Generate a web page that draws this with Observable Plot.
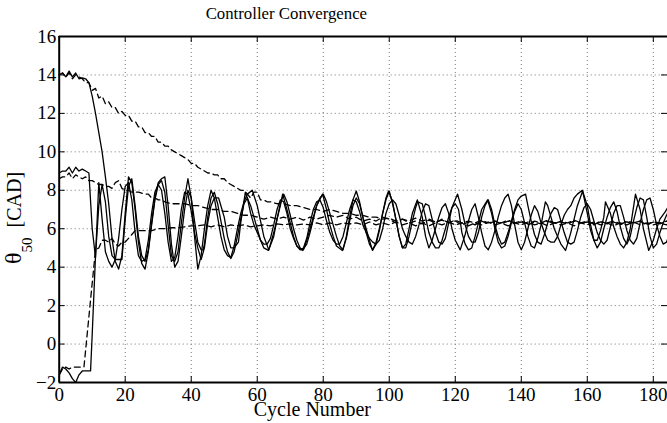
<!DOCTYPE html>
<html><head><meta charset="utf-8">
<script src="https://cdn.jsdelivr.net/npm/d3@7"></script>
<script src="https://cdn.jsdelivr.net/npm/@observablehq/plot@0.6"></script>
<style>
html,body{margin:0;padding:0;background:#fff;}
</style></head><body><div id="chart"></div>
<script>
const title = "Controller Convergence";
const xLabel = "Cycle Number";
const yLabelMain = "θ";
const yLabelSub = "50";
const yLabelUnit = "\u00a0\u00a0[CAD]";
const xTicks = [0, 20, 40, 60, 80, 100, 120, 140, 160, 180];
const yTicks = [-2, 0, 2, 4, 6, 8, 10, 12, 14, 16];
const xDomain = [0, 184.3];
const yDomain = [-2, 16];

// Solid traces (measured)
const solidA = [[0,14.0],[1,14.1],[2,13.9],[3,14.2],[4,13.9],[5,14.1],[6,13.8],[7,13.85],[8,13.8],[9,13.6],[10,12.9],[11,12.0],[12,11.0],[13,10.0],[14,8.7],[15,7.3],[16,5.5],[17,4.3],[18,3.9],[19,4.6],[20,6.8],[21,8.7],[22,8.4],[23,7.0],[24,5.3],[25,4.2],[26,3.9],[27,4.8],[28,6.2],[29,7.5],[30,8.3],[31,8.5],[32,7.9],[33,6.2],[34,4.6],[35,4.3],[36,4.8],[37,6.3],[38,7.6],[39,8.6],[40,7.6],[41,5.6],[42,3.9],[43,4.6],[44,6.0],[45,7.2],[46,8.0],[47,7.6],[48,6.6],[49,5.6],[50,4.9],[51,4.6],[52,4.5],[53,5.1],[54,6.0],[55,6.8],[56,7.4],[57,7.8],[58.5,8.0],[60,7.2],[61,6.4],[62,5.6],[63.5,4.9],[65,5.6],[66,6.5],[67,7.3],[68,7.8],[69,7.4],[70,6.7],[71,6.0],[72,5.4],[73,5.0],[74,4.9],[75,5.4],[76,6.0],[77,6.6],[78,7.2],[79,7.6],[80,7.8],[81,7.4],[82,6.8],[83,6.2],[84,5.6],[85,5.1],[86,4.9],[87,5.6],[88,6.6],[89,7.5],[90,7.96],[91,7.4],[92,6.6],[93,5.8],[94,5.2],[95,4.9],[96,5.3],[97,6.0],[98,6.8],[99,7.5],[100,7.96],[101,7.3],[102,6.5],[103,5.6],[104,5.0],[105,5.2],[106,6.0],[107,6.8],[108.5,7.5],[110,6.6],[111,5.6],[112,5.0],[113,5.4],[114,6.0],[115,6.6],[116,7.1],[117,7.3],[118,6.8],[119,6.0],[120,5.4],[121.5,4.9],[123,5.7],[124,6.4],[125,7.0],[126,7.3],[127,6.6],[128,5.8],[129,5.1],[130,4.9],[131,5.3],[132,5.9],[133,6.6],[134,7.2],[135,7.6],[136,7.8],[137,7.2],[138,6.2],[139,5.3],[140,4.9],[141,5.3],[142,6.0],[143,6.7],[144,7.2],[145,6.9],[146,6.3],[147,5.8],[148,5.4],[149,5.3],[150,5.3],[151,5.6],[152,6.2],[153,6.7],[154,7.0],[155,7.2],[156,7.6],[157,7.8],[158.5,8.0],[160,7.2],[161,6.2],[162,5.4],[163,5.0],[164,5.3],[165,6.0],[166,6.6],[167,7.1],[168,7.4],[169,6.9],[170,6.1],[171,5.5],[172,5.2],[173,5.6],[174,6.4],[175,7.1],[176,7.6],[177,7.5],[178,6.6],[179,5.6],[180,5.0],[181,5.2],[182,5.8],[183,6.3],[184,6.7],[185,7.0]];

const solidB = [[0,8.9],[1,9.0],[2,9.0],[3,9.2],[4,8.9],[5,9.2],[6,9.0],[7,9.1],[8,9.0],[9,8.9],[10,6.0],[11,4.5],[12,8.4],[13,6.5],[14,4.8],[15,4.3],[16,4.0],[17,4.4],[18,5.5],[19,7.0],[20,8.2],[21,8.4],[22,7.5],[23,5.8],[24,4.6],[25,4.3],[26,4.4],[27,5.4],[28,6.8],[29,7.9],[30,8.3],[31,8.0],[32,6.8],[33,5.3],[34,4.3],[35,4.5],[36,5.6],[37,7.0],[38,7.9],[39,7.8],[40,6.9],[41,5.8],[42,5.0],[43,4.4],[44,5.0],[45,6.3],[46,7.2],[47,7.6],[48.3,7.6],[50,6.6],[51,5.6],[52,5.0],[53,5.0],[54.3,5.3],[55,6.3],[56.4,7.9],[57,7.6],[58,6.8],[59,6.2],[60,5.8],[61,5.4],[62,5.2],[63,5.2],[64,5.5],[65,6.2],[66,7.0],[67,7.5],[68,7.4],[69,6.8],[70,6.0],[71,5.5],[72,5.1],[73,4.9],[74,5.0],[75,5.5],[76,6.3],[77,7.0],[78,7.4],[79,7.5],[80,7.1],[81,6.4],[82,5.8],[83,5.4],[84,5.2],[85,5.2],[86,5.6],[87,6.3],[88,7.0],[89,7.5],[90,7.4],[91,6.9],[92,6.2],[93,5.8],[94,5.5],[95,5.3],[96,5.2],[97,5.4],[98,6.0],[99,6.8],[100,7.3],[101,7.5],[102,7.3],[103,6.7],[104,6.0],[105,5.6],[106,5.3],[107,5.2],[108,5.6],[109,6.2],[110,6.9],[111,7.3],[112,7.2],[113,6.5],[114,5.8],[115,5.3],[116,5.2],[117,5.5],[118,6.3],[119,7.1],[120.7,7.8],[122,7.0],[123,6.2],[124,5.6],[125,5.3],[126,5.3],[127,5.8],[128,6.6],[129,7.2],[130,7.5],[131,7.0],[132,6.2],[133,5.6],[134,5.2],[135,5.3],[136,5.8],[137,6.4],[138,7.0],[139,7.5],[140,7.7],[141.3,7.8],[142,7.2],[143,6.4],[144,5.7],[145,5.3],[146,5.2],[147,5.7],[148,6.3],[149,6.8],[150,7.1],[151,7.0],[152,6.4],[153,5.8],[154,5.3],[155,5.2],[156,5.3],[157,5.9],[158,6.6],[159,7.1],[160,7.3],[161,7.0],[162,6.4],[163,5.8],[164,5.4],[165,5.2],[166,5.4],[167,6.1],[168,6.8],[169,7.2],[170,7.2],[171,6.6],[172,5.9],[173,5.4],[174,5.2],[175,5.5],[176,6.3],[177,7.0],[178,7.5],[179,7.6],[180,7.0],[181,6.2],[182,5.6],[183,5.2],[184,5.3],[185,5.8]];

const solidC = [[0,-1.6],[1,-1.2],[2,-1.3],[3,-1.5],[4,-1.8],[5,-2.0],[6,-1.6],[7,-1.4],[8,-1.4],[9.5,-1.4],[10,0.5],[11,4.6],[12,7.2],[13,8.3],[14,7.4],[15,5.6],[16,4.6],[17,4.4],[18,4.4],[19,4.4],[20,6.5],[21,8.2],[22,8.6],[23,7.2],[24,5.6],[25,4.6],[26,4.3],[27,4.9],[28,6.3],[29,7.6],[30,8.4],[31,8.6],[32,8.7],[33,7.2],[34,5.2],[35,4.0],[36,4.3],[37,5.6],[38,7.0],[39,8.0],[40,7.6],[41,6.4],[42,5.3],[43,4.9],[43.6,4.9],[44,5.2],[45,6.6],[46,7.6],[47,7.9],[48,7.3],[49,6.4],[50,5.5],[51,4.8],[52,4.45],[53,4.8],[54,5.6],[55,6.5],[56,7.3],[57,7.6],[58,7.2],[59,6.6],[60,6.0],[61,5.4],[62,5.0],[63.4,4.87],[64,5.2],[65,5.8],[66,6.5],[67,7.2],[67.7,7.8],[69,7.0],[70,6.3],[71,5.6],[72,5.1],[73.7,4.87],[75,5.2],[76,5.8],[77,6.5],[78,7.2],[79.8,7.8],[81,7.0],[82,6.2],[83,5.6],[84,5.1],[85.8,4.87],[87,5.5],[88,6.4],[89,7.2],[90,7.6],[91,7.3],[92,6.6],[93,6.0],[94,5.4],[94.9,4.87],[96,5.2],[97,5.9],[98,6.8],[99,7.6],[99.8,7.96],[101,7.4],[102,6.5],[103,5.6],[104,5.0],[105,5.0],[106,5.6],[107,6.4],[108,7.1],[108.6,7.4],[110,7.3],[111,6.6],[112,5.8],[113,5.3],[114,5.0],[115,5.0],[116,5.4],[117,6.0],[118,6.6],[119,7.1],[120,7.3],[121,7.0],[122,5.8],[123,5.2],[124,4.9],[125,5.0],[126,5.6],[127,6.3],[128,7.0],[129.8,7.5],[131,6.8],[132,6.0],[133,5.3],[134,5.0],[135,5.1],[136,5.6],[137,6.3],[138,6.9],[139,7.3],[140,7.0],[141,6.3],[142,5.6],[143,5.1],[144,5.0],[145,5.5],[146,6.2],[147.3,7.4],[148,7.2],[149,6.6],[150,6.0],[151,5.6],[152,5.2],[153.4,4.87],[154,5.2],[155,5.8],[156,6.5],[157,7.2],[158.6,7.96],[160,6.8],[161,5.9],[162,5.4],[163,5.4],[164,5.9],[165,6.6],[165.5,7.4],[167,6.8],[168,6.1],[169,5.6],[170,5.2],[171,5.0],[172,5.3],[173,6.0],[174.6,7.8],[176,7.0],[177,6.0],[178.6,4.87],[180,5.4],[181,6.0],[182,6.5],[183.7,6.9],[185,7.3]];

// Dashed traces (targets)
const dashA = [[0,14.0],[1,14.1],[2,13.9],[3,14.1],[4,13.8],[5,14.0],[6,13.9],[7,13.8],[8,13.6],[9,13.6],[10,13.2],[11,13.3],[12,12.8],[13,12.9],[14,12.5],[15,12.6],[16,12.3],[17,12.3],[18,12.0],[19,12.1],[20,11.9],[21,11.9],[22,11.6],[23,11.6],[24,11.3],[25,11.3],[26,11.0],[27,11.0],[28,10.8],[29,10.8],[30,10.5],[31,10.5],[32,10.3],[33,10.3],[34,10.1],[35,10.0],[36,9.9],[37,9.8],[38,9.7],[39,9.6],[40,9.4],[41,9.4],[42,9.2],[43,9.1],[44,9.0],[45,8.9],[46,8.9],[47,8.8],[48,8.8],[49,8.6],[50,8.6],[51,8.4],[52,8.3],[53,8.2],[54,8.1],[55,8.0],[56,8.0],[57,7.8],[58,7.6],[59,7.9],[60,7.9],[61,7.5],[62,7.5],[63,7.4],[64,7.4],[66,7.3],[68,7.3],[70,7.2],[72,7.2],[74,7.1],[76,7.0],[78,7.0],[80,6.9],[82,7.0],[84,6.9],[86,6.8],[88,6.8],[90,6.7],[92,6.7],[94,6.6],[96,6.6],[98,6.5],[100,6.55],[102,6.4],[104,6.5],[106,6.4],[108,6.55],[110,6.4],[112,6.5],[114,6.35],[116,6.45],[118,6.3],[120,6.45],[122,6.3],[124,6.4],[126,6.3],[128,6.45],[130,6.3],[132,6.4],[134,6.25],[136,6.4],[138,6.3],[140,6.4],[142,6.25],[144,6.4],[146,6.3],[148,6.45],[150,6.3],[152,6.35],[154,6.25],[156,6.4],[158,6.3],[160,6.4],[162,6.25],[164,6.35],[166,6.3],[168,6.4],[170,6.25],[172,6.35],[174,6.3],[176,6.4],[178,6.25],[180,6.35],[182,6.3],[184,6.4],[185,6.3]];

const dashB = [[0,8.6],[1,8.7],[2,8.7],[3,8.9],[4,8.6],[5,8.8],[6,8.7],[7,8.6],[8,8.7],[9,8.5],[10,8.5],[11,8.4],[12,8.3],[13,8.3],[14,8.2],[15,8.2],[16,8.1],[17,8.4],[18,8.5],[19,8.1],[20,8.0],[21,8.0],[22,7.9],[23,7.9],[24,7.9],[25,7.85],[26,7.8],[27,7.8],[28,7.6],[29,7.6],[30,7.5],[31,7.5],[32,7.4],[33,7.35],[34,7.3],[35,7.3],[36,7.3],[38,7.3],[40,7.2],[42,7.2],[44,7.1],[46,7.0],[48,7.0],[50,6.9],[52,6.9],[54,6.8],[56,6.7],[58,6.7],[60,6.6],[62,6.5],[64,6.6],[66,6.5],[68,6.6],[70,6.5],[72,6.6],[74,6.45],[76,6.6],[78,6.5],[80,6.6],[82,6.7],[84,6.6],[86,6.7],[88,6.5],[90,6.6],[92,6.4],[94,6.5],[96,6.4],[98,6.6],[100,6.5],[102,6.3],[104,6.5],[106,6.3],[108,6.4],[110,6.25],[112,6.45],[114,6.3],[116,6.5],[118,6.3],[120,6.4],[122,6.2],[124,6.35],[126,6.2],[128,6.4],[130,6.25],[132,6.4],[134,6.3],[136,6.45],[138,6.3],[140,6.35],[142,6.2],[144,6.35],[146,6.25],[148,6.4],[150,6.25],[152,6.4],[154,6.3],[156,6.45],[158,6.3],[160,6.35],[162,6.2],[164,6.4],[166,6.25],[168,6.35],[170,6.2],[172,6.4],[174,6.3],[176,6.4],[178,6.2],[180,6.35],[182,6.25],[184,6.4],[185,6.3]];

const dashC = [[0,-1.6],[1,-1.3],[2,-1.2],[3,-1.3],[4,-1.2],[5,-1.2],[6,-1.2],[7.5,-1.2],[9.5,2.3],[11,4.9],[12,5.0],[13,5.4],[14,5.4],[15,5.3],[16,5.5],[17,5.2],[18,5.1],[19,5.3],[20,5.3],[21,5.5],[22,5.7],[23,5.9],[24,5.9],[26,5.9],[28,5.9],[30,6.0],[32,6.0],[34,6.05],[36,6.05],[38,6.1],[40,6.15],[42,6.15],[44,6.2],[46,6.1],[48,6.2],[50,6.1],[52,6.2],[54,6.15],[56,6.2],[58,6.1],[60,6.15],[62,6.2],[64,6.15],[66,6.25],[68,6.2],[70,6.25],[72,6.2],[74,6.25],[76,6.2],[78,6.3],[80,6.2],[82,6.3],[84,6.2],[86,6.3],[88,6.25],[90,6.3],[92,6.2],[94,6.35],[96,6.2],[98,6.3],[100,6.2],[102,6.35],[104,6.2],[106,6.3],[108,6.15],[110,6.3],[112,6.15],[114,6.3],[116,6.2],[118,6.35],[120,6.2],[122,6.3],[124,6.15],[126,6.3],[128,6.2],[130,6.35],[132,6.2],[134,6.3],[136,6.15],[138,6.3],[140,6.2],[142,6.35],[144,6.2],[146,6.3],[148,6.15],[150,6.3],[152,6.2],[154,6.3],[156,6.15],[158,6.3],[160,6.2],[162,6.35],[164,6.2],[166,6.3],[168,6.15],[170,6.3],[172,6.2],[174,6.35],[176,6.2],[178,6.3],[180,6.2],[182,6.3],[184,6.2],[185,6.3]];

const seriesList = [
  {name: "solidA", kind: "solid", pts: solidA},
  {name: "solidB", kind: "solid", pts: solidB},
  {name: "solidC", kind: "solid", pts: solidC},
  {name: "dashA", kind: "dash", pts: dashA},
  {name: "dashB", kind: "dash", pts: dashB},
  {name: "dashC", kind: "dash", pts: dashC}
];
const rows = seriesList.flatMap(s => s.pts.map(([x, y]) => ({series: s.name, kind: s.kind, x, y})));

const W = 667, H = 423, mL = 58.7, mR = 0, mT = 36, mB = 41;
const fw = W - mL - mR, fh = H - mT - mB;
const serif = "'Liberation Serif', 'Times New Roman', Times, serif";

const chart = Plot.plot({
  width: W, height: H,
  marginLeft: mL, marginRight: mR, marginTop: mT, marginBottom: mB,
  style: {fontFamily: serif, fontSize: "19px", color: "#000", background: "#fff", overflow: "visible"},
  x: {domain: xDomain, axis: null},
  y: {domain: yDomain, axis: null},
  marks: [
    Plot.gridX(xTicks.slice(1), {stroke: "#777", strokeOpacity: 1, strokeWidth: 1, strokeDasharray: "1,3"}),
    Plot.gridY(yTicks.slice(1, -1), {stroke: "#777", strokeOpacity: 1, strokeWidth: 1, strokeDasharray: "1,3"}),
    Plot.line(rows.filter(d => d.kind === "dash"), {x: "x", y: "y", z: "series", stroke: "#000", strokeWidth: 1.3, strokeDasharray: "6,4", clip: true}),
    Plot.line(rows.filter(d => d.kind === "solid"), {x: "x", y: "y", z: "series", stroke: "#000", strokeWidth: 1.3, clip: true}),
    Plot.ruleX([xDomain[0]], {stroke: "#000", strokeWidth: 2}),
    Plot.ruleY([yDomain[0], yDomain[1]], {stroke: "#000", strokeWidth: 2}),
    Plot.tickX(xTicks, {stroke: "#000", strokeWidth: 1, insetTop: fh - 6}),
    Plot.tickX(xTicks, {stroke: "#000", strokeWidth: 1, insetBottom: fh - 6}),
    Plot.tickY(yTicks, {stroke: "#000", strokeWidth: 1, insetRight: fw - 6}),
    Plot.tickY(yTicks, {stroke: "#000", strokeWidth: 1, insetLeft: fw - 6}),
    Plot.axisX(xTicks, {tickSize: 0, tickPadding: 5, label: null, fontSize: 19, fontFamily: serif, fill: "#000"}),
    Plot.axisY(yTicks, {tickSize: 0, tickPadding: 3, label: null, fontSize: 19, fontFamily: serif, fill: "#000"}),
    Plot.text([title], {frameAnchor: "top", lineAnchor: "middle", dx: -77, dy: -22.5, fontSize: 16.8, fontFamily: serif, fill: "#000"}),
    Plot.text([xLabel], {frameAnchor: "bottom", lineAnchor: "middle", dx: -51, dy: 27, fontSize: 20, fontFamily: serif, fill: "#000"})
  ]
});

// y-axis label with subscript
const svg = d3.select(chart);
const yl = svg.append("text")
  .attr("transform", "translate(20.5,264) rotate(-90)")
  .attr("text-anchor", "start")
  .attr("font-family", serif)
  .attr("font-size", 20)
  .attr("fill", "#000");
yl.append("tspan").attr("font-size", 24).text(yLabelMain);
yl.append("tspan").attr("font-size", 15).attr("dy", 11).text(yLabelSub);
yl.append("tspan").attr("dy", -11).text(yLabelUnit);

document.getElementById("chart").appendChild(chart);
</script>
</body></html>
